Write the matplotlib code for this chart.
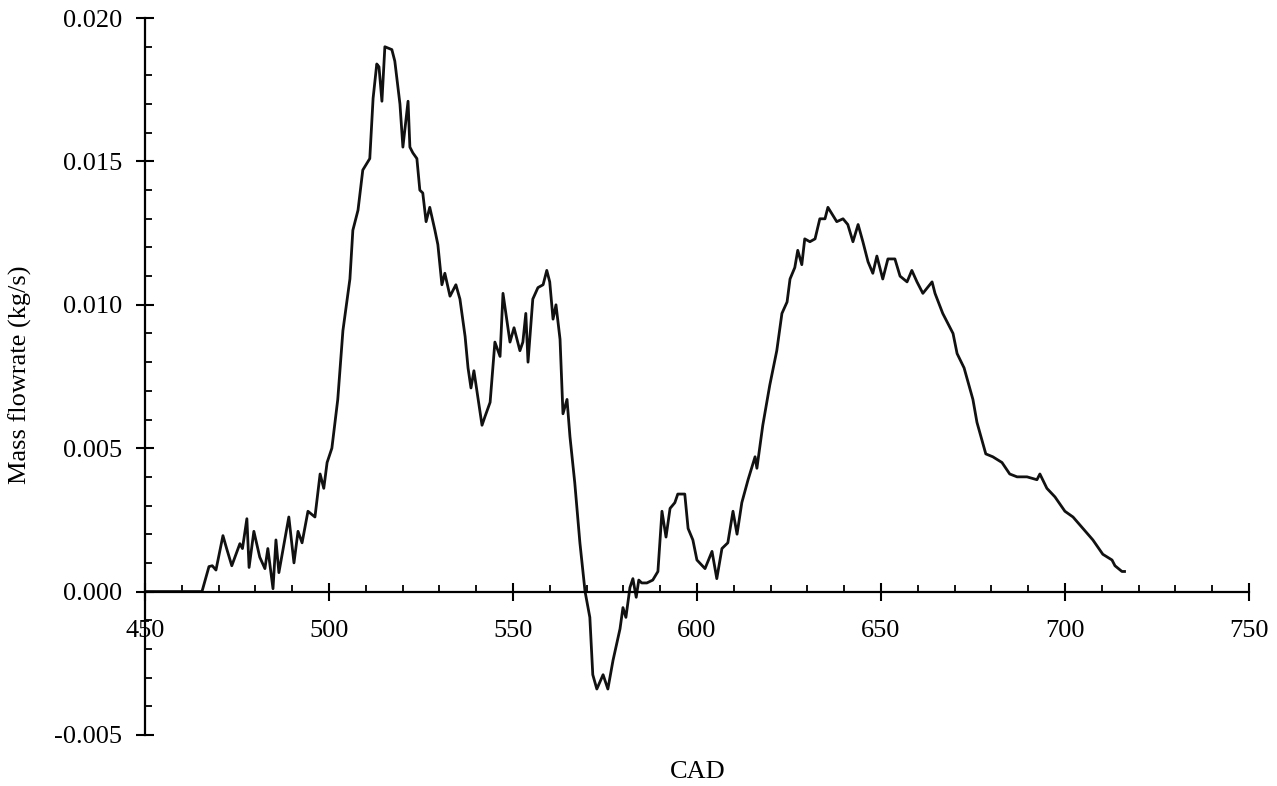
import matplotlib.pyplot as plt
from matplotlib.ticker import MultipleLocator, FormatStrFormatter

# crank angle (deg) and mass flowrate (kg/s)
cad = [450, 465.5, 467.4, 468.3, 469.3, 471.2, 472.2, 473.6, 475.8, 476.5,
       477.7, 478.3, 479.6, 481.2, 482.6, 483.4, 484.8, 485.6, 486.4, 489.1,
       490.5, 491.6, 492.7, 494.3, 496.2, 497.6, 498.6, 499.5, 500.8, 502.4,
       503.8, 505.7, 506.5, 507.9, 509.2, 511.1, 512.0, 513.0, 513.6, 514.4,
       515.2, 517.1, 517.9, 519.3, 520.1, 521.5, 522.0, 522.8, 523.9, 524.7,
       525.5, 526.4, 527.4, 528.8, 529.6, 530.7, 531.5, 532.9, 534.5, 535.6,
       537.0, 537.8, 538.6, 539.4, 540.2, 541.6, 542.4, 543.8, 545.1, 546.5,
       547.3, 549.2, 550.3, 551.9, 552.7, 553.5, 554.1, 555.4, 556.8, 558.2,
       559.2, 560.0, 560.9, 561.7, 562.8, 563.6, 564.7, 565.5, 566.8, 568.2,
       569.6, 570.9, 571.7, 572.8, 574.5, 575.8, 577.2, 579.1, 579.9, 580.7,
       581.8, 582.6, 583.5, 584.2, 585.0, 586.4, 588.0, 589.4, 590.5, 591.6,
       592.7, 594.0, 594.8, 596.7, 597.6, 598.9, 600.0, 602.2, 604.1, 605.4,
       606.8, 608.4, 609.8, 610.9, 612.2, 613.9, 615.8, 616.3, 617.9, 619.8,
       621.7, 623.1, 624.5, 625.3, 626.6, 627.4, 628.5, 629.3, 630.7, 632.1,
       633.4, 634.8, 635.6, 638.0, 639.7, 641.0, 642.4, 643.8, 645.1, 646.5,
       647.8, 648.9, 650.5, 651.9, 653.8, 655.2, 657.1, 658.4, 659.8, 661.4,
       663.9, 664.7, 666.8, 669.6, 670.7, 672.6, 675.0, 676.1, 678.5, 680.4,
       682.9, 685.0, 687.0, 689.7, 692.4, 693.2, 695.1, 697.3, 700.0, 702.2,
       704.9, 707.6, 710.3, 712.8, 713.6, 715.5, 716.2]

flow = [0, 0, 0.00087, 0.0009, 0.00075, 0.00195, 0.0015, 0.0009, 0.00167, 0.0015,
        0.00254, 0.00084, 0.0021, 0.0012, 0.0008, 0.0015, 0.0001, 0.0018, 0.00066, 0.0026,
        0.001, 0.0021, 0.0017, 0.0028, 0.0026, 0.0041, 0.0036, 0.0045, 0.005, 0.0067,
        0.0091, 0.0109, 0.0126, 0.0133, 0.0147, 0.0151, 0.0172, 0.0184, 0.0183, 0.0171,
        0.019, 0.0189, 0.0185, 0.017, 0.0155, 0.0171, 0.0155, 0.0153, 0.0151, 0.014,
        0.0139, 0.0129, 0.0134, 0.0126, 0.0121, 0.0107, 0.0111, 0.0103, 0.0107, 0.0102,
        0.0089, 0.0078, 0.0071, 0.0077, 0.007, 0.0058, 0.0061, 0.0066, 0.0087, 0.0082,
        0.0104, 0.0087, 0.0092, 0.0084, 0.0087, 0.0097, 0.008, 0.0102, 0.0106, 0.0107,
        0.0112, 0.0108, 0.0095, 0.01, 0.0088, 0.0062, 0.0067, 0.0054, 0.0038, 0.0017,
        0.0, -0.0009, -0.0029, -0.0034, -0.0029, -0.0034, -0.0024, -0.0013, -0.00056, -0.0009,
        0.00014, 0.00045, -0.0002, 0.0004, 0.0003, 0.0003, 0.0004, 0.0007, 0.0028, 0.0019,
        0.0029, 0.0031, 0.0034, 0.0034, 0.0022, 0.0018, 0.0011, 0.0008, 0.0014, 0.00045,
        0.0015, 0.0017, 0.0028, 0.002, 0.0031, 0.0039, 0.0047, 0.0043, 0.0058, 0.0072,
        0.0084, 0.0097, 0.0101, 0.0109, 0.0113, 0.0119, 0.0114, 0.0123, 0.0122, 0.0123,
        0.013, 0.013, 0.0134, 0.0129, 0.013, 0.0128, 0.0122, 0.0128, 0.0122, 0.0115,
        0.0111, 0.0117, 0.0109, 0.0116, 0.0116, 0.011, 0.0108, 0.0112, 0.0108, 0.0104,
        0.0108, 0.0104, 0.0097, 0.009, 0.0083, 0.0078, 0.0067, 0.0059, 0.0048, 0.0047,
        0.0045, 0.0041, 0.004, 0.004, 0.0039, 0.0041, 0.0036, 0.0033, 0.0028, 0.0026,
        0.0022, 0.0018, 0.0013, 0.0011, 0.0009, 0.0007, 0.0007]

assert len(cad) == len(flow)

plt.rcParams['font.family'] = ['Liberation Serif', 'DejaVu Serif']

fig = plt.figure(figsize=(12.77, 7.86), dpi=100)
ax = fig.add_axes([0.1135, 0.065, 0.8645, 0.912])

ax.plot(cad, flow, color='#111111', lw=2.0)

ax.set_xlim(450, 750)
ax.set_ylim(-0.005, 0.020)

# axes cross at zero, no box
ax.spines['top'].set_visible(False)
ax.spines['right'].set_visible(False)
ax.spines['bottom'].set_position(('data', 0))
ax.spines['bottom'].set_linewidth(1.6)
ax.spines['left'].set_linewidth(1.6)

ax.xaxis.set_major_locator(MultipleLocator(50))
ax.xaxis.set_minor_locator(MultipleLocator(10))
ax.yaxis.set_major_locator(MultipleLocator(0.005))
ax.yaxis.set_minor_locator(MultipleLocator(0.001))
ax.yaxis.set_major_formatter(FormatStrFormatter('%.3f'))

ax.tick_params(which='major', direction='inout', length=13, width=1.5,
               labelsize=19)
ax.tick_params(which='minor', direction='in', length=5, width=1.3)
ax.tick_params(axis='x', which='major', pad=14)
ax.tick_params(axis='y', which='major', pad=10)

fig.text(0.546, 0.018, 'CAD', ha='center', va='center', fontsize=19)
fig.text(0.016, 0.523, 'Mass flowrate (kg/s)', ha='center', va='center',
         rotation=90, fontsize=19)

fig.savefig('out.png', dpi=100, facecolor='white')
